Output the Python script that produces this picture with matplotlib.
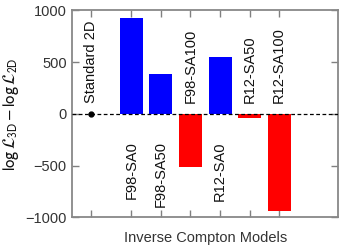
import matplotlib
matplotlib.use("Agg")
import matplotlib.pyplot as plt

plt.rcParams['font.family'] = ['Liberation Sans', 'DejaVu Sans']
plt.rcParams['mathtext.fontset'] = 'stixsans'

models = ["F98-SA0", "F98-SA50", "F98-SA100", "R12-SA0", "R12-SA50", "R12-SA100"]
delta_loglike = [925, 388, -512, 553, -39, -939]
baseline_label = "Standard 2D"
baseline_value = 0
yticks = [-1000, -500, 0, 500, 1000]

fig = plt.figure(figsize=(3.44, 2.46), dpi=100)
ax = fig.add_axes([0.210, 0.1167, 0.7734, 0.8415])

xpos = list(range(len(models)))
base_x = -1.35
colors = ['#0000ff' if v > 0 else '#ff0000' for v in delta_loglike]
ax.bar(xpos, delta_loglike, width=0.78, color=colors, zorder=2)
ax.axhline(0, color='black', ls=(0, (3, 2)), lw=0.9, zorder=3)
ax.plot([base_x], [baseline_value], 'o', color='black', ms=3.5, zorder=4)

fs = 10.5
ax.text(base_x, 100, baseline_label, rotation=90, ha='center', va='bottom', fontsize=fs, color='#111111')
for x, v, m in zip(xpos, delta_loglike, models):
    if v > 0:
        ax.text(x, -265, m, rotation=90, ha='center', va='top', fontsize=fs, color='#111111')
    else:
        ax.text(x, 100, m, rotation=90, ha='center', va='bottom', fontsize=fs, color='#111111')

ax.set_xlim(-2.0, 7.0)
ax.set_ylim(-1000, 1000)
ax.set_xticks([base_x] + xpos)
ax.set_xticklabels([])
ax.set_yticks(yticks)
ax.set_yticklabels([str(t).replace('-', '\u2212') for t in yticks])
ax.tick_params(direction='in', length=5, width=1, color='#808080', labelcolor='#333333',
               labelsize=fs, top=True, right=True, pad=4)
for s in ax.spines.values():
    s.set_color('#888888')
    s.set_linewidth(1.3)
ax.set_xlabel("Inverse Compton Models", fontsize=fs, color='#333333', labelpad=6)
ax.set_ylabel(r"$\log\mathcal{L}_{3\mathrm{D}} - \log\mathcal{L}_{2\mathrm{D}}$", fontsize=12, color='#111111', labelpad=3)

fig.savefig("out.png", dpi=100)
